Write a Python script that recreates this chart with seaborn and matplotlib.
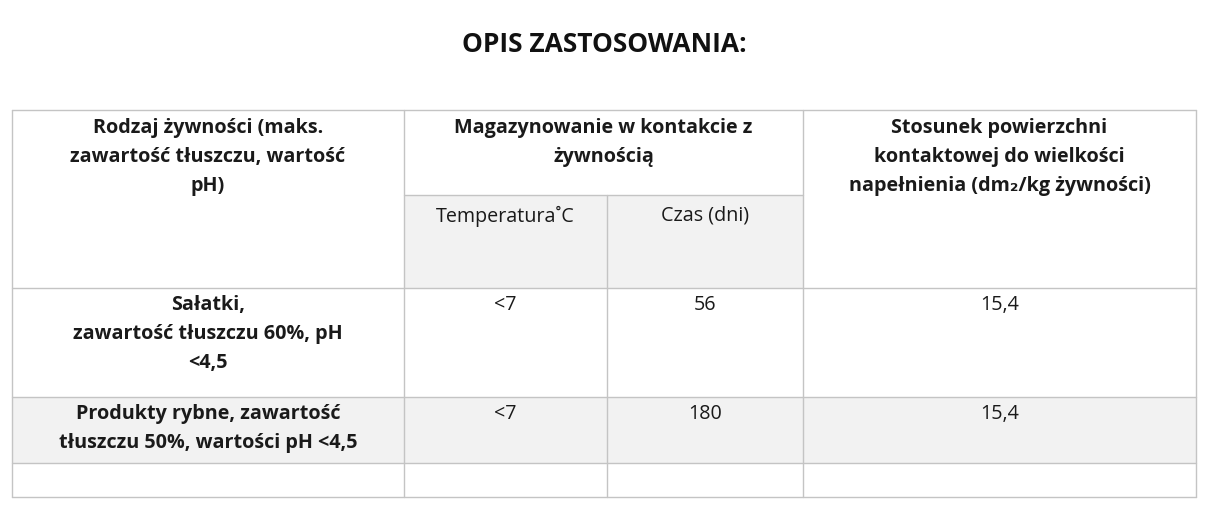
import matplotlib
matplotlib.use("Agg")
import matplotlib.pyplot as plt
from matplotlib.patches import Rectangle
import seaborn as sns

sns.set_theme(style="white")
plt.rcParams["font.family"] = ["Open Sans", "DejaVu Sans"]

title = "OPIS ZASTOSOWANIA:"
header_food = "Rodzaj żywności (maks.\nzawartość tłuszczu, wartość\npH)"
header_storage = "Magazynowanie w kontakcie z\nżywnością"
header_ratio = "Stosunek powierzchni\nkontaktowej do wielkości\nnapełnienia (dm₂/kg żywności)"
sub_temp = "Temperatura˚C"
sub_time = "Czas (dni)"

foods = ["Sałatki,\nzawartość tłuszczu 60%, pH\n<4,5",
         "Produkty rybne, zawartość\ntłuszczu 50%, wartości pH <4,5",
         ""]
temps = ["<7", "<7", ""]
times = ["56", "180", ""]
ratios = ["15,4", "15,4", ""]

W, H = 1208, 512
cols = [12, 404, 607, 803, 1196]
rows = [110, 288, 397, 463, 497]
sub_top = 195
line_c = "#c4c4c4"
grey = "#f2f2f2"
fs = 14.2

fig = plt.figure(figsize=(W / 100, H / 100), dpi=100)
ax = fig.add_axes([0, 0, 1, 1])
ax.set_xlim(0, W)
ax.set_ylim(H, 0)
ax.axis("off")

ax.text(W / 2, 45, title, ha="center", va="center", fontsize=19, fontweight="bold", color="#111")

# grey backgrounds
ax.add_patch(Rectangle((cols[1], sub_top), cols[3] - cols[1], rows[1] - sub_top, color=grey, lw=0))
ax.add_patch(Rectangle((cols[0], rows[2]), cols[4] - cols[0], rows[3] - rows[2], color=grey, lw=0))

# grid lines
for y in rows:
    ax.plot([cols[0], cols[4]], [y, y], color=line_c, lw=1)
ax.plot([cols[1], cols[3]], [sub_top, sub_top], color=line_c, lw=1)
for i, x in enumerate(cols):
    y0 = sub_top if i == 2 else rows[0]
    ax.plot([x, x], [y0, rows[-1]], color=line_c, lw=1)

def cell(x, y, s, bold=False):
    ax.text(x, y, s, ha="center", va="top", fontsize=fs, linespacing=1.6,
            fontweight="bold" if bold else "normal", color="#1a1a1a")

cell((cols[0] + cols[1]) / 2, 118, header_food, bold=True)
cell((cols[1] + cols[3]) / 2, 118, header_storage, bold=True)
cell((cols[3] + cols[4]) / 2, 118, header_ratio, bold=True)
cell((cols[1] + cols[2]) / 2, 206, sub_temp)
cell((cols[2] + cols[3]) / 2, 206, sub_time)

for i in range(len(foods)):
    y = rows[i + 1] + 7
    cell((cols[0] + cols[1]) / 2, y, foods[i], bold=True)
    cell((cols[1] + cols[2]) / 2, y, temps[i])
    cell((cols[2] + cols[3]) / 2, y, times[i])
    cell((cols[3] + cols[4]) / 2, y, ratios[i])

fig.savefig("out.png", dpi=100, facecolor="white")
